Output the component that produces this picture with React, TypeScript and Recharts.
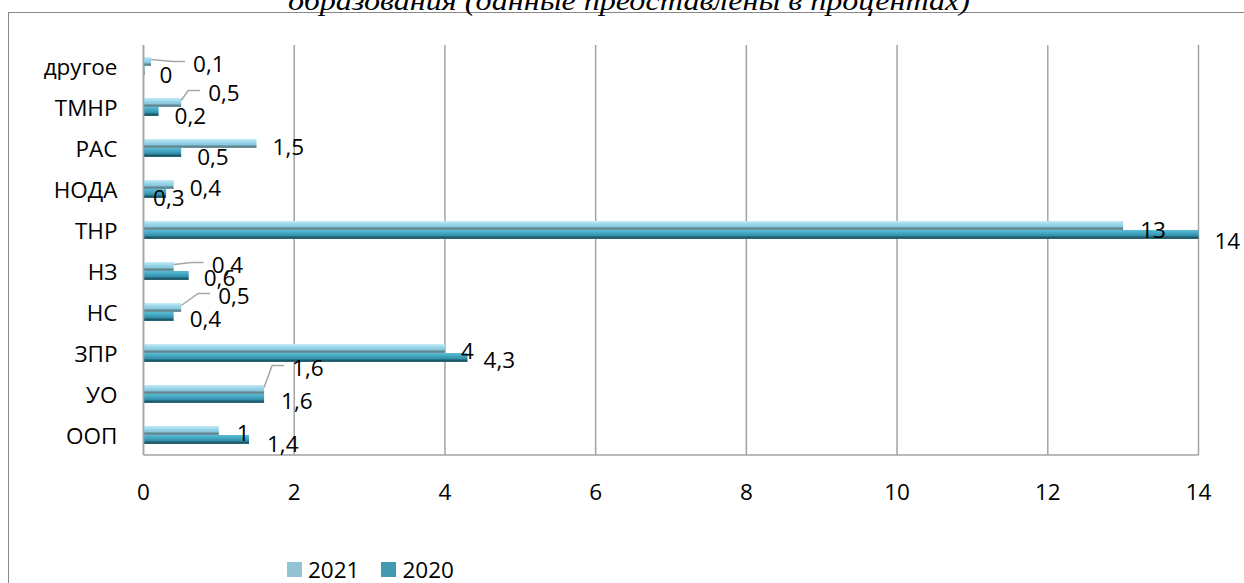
import React from 'react'
import { BarChart, Bar, XAxis, YAxis, CartesianGrid, LabelList } from 'recharts'

const categories = ['другое', 'ТМНР', 'РАС', 'НОДА', 'ТНР', 'НЗ', 'НС', 'ЗПР', 'УО', 'ООП']
const values2021 = [0.1, 0.5, 1.5, 0.4, 13, 0.4, 0.5, 4, 1.6, 1]
const values2020 = [0, 0.2, 0.5, 0.3, 14, 0.6, 0.4, 4.3, 1.6, 1.4]
const xTicks = [0, 2, 4, 6, 8, 10, 12, 14]

// label nudges relative to the end of each bar: [dx, dy, leader line]
const nudge2021: [number, number, boolean][] = [
    [42, 2, true], [27, -10, true], [16, 3, false], [16, 3, false], [17, 4, false],
    [38, -2, true], [37, -12, true], [16, 2, false], [28, -22, true], [18, 2, false],
]
const nudge2020: [number, number, boolean][] = [
    [15, 4, false], [16, 4, false], [16, 4, false], [-13, 4, false], [16, 6, false],
    [15, 2, false], [16, 2, false], [16, 2, false], [17, 2, false], [18, 4, false],
]

const FONT = '"Open Sans", sans-serif'
const FS = 22.5
const GRID = '#a3a3a3'

const chartData = categories.map((name, i) => ({
    name,
    y2021: values2021[i],
    y2020: values2020[i],
}))

const fmt = (v: number) => String(v).replace('.', ',')

function makeLabel(nudges: [number, number, boolean][]) {
    return (props: any) => {
        const { x, y, width, height, value, index } = props
        const [dx, dy, leader] = nudges[index] || [16, 3, false]
        const endX = Number(x) + Number(width)
        const cy = Number(y) + Number(height) / 2
        const lx = endX + dx
        const ly = cy + dy
        return (
            <g>
                {leader && (
                    <polyline
                        points={`${endX},${cy - 2} ${lx - 20},${ly - 2} ${lx - 8},${ly - 2}`}
                        fill="none"
                        stroke="#a6a6a6"
                        strokeWidth={1.5}
                    />
                )}
                <text x={lx} y={ly} dominantBaseline="central" textAnchor="start"
                    fontFamily={FONT} fontSize={FS} fill="#000">
                    {fmt(value)}
                </text>
            </g>
        )
    }
}

const XTick = (props: any) => {
    const { x, y, payload } = props
    return (
        <text x={x} y={Number(y) + 36} textAnchor="middle" dominantBaseline="central"
            fontFamily={FONT} fontSize={FS} fill="#000">
            {payload.value}
        </text>
    )
}

const YTick = (props: any) => {
    const { x, y, payload } = props
    return (
        <text x={Number(x) - 26} y={Number(y) + 1} textAnchor="end" dominantBaseline="central"
            fontFamily={FONT} fontSize={FS} fill="#000">
            {payload.value}
        </text>
    )
}

export default function App() {
    return (
        <div style={{ position: 'relative', width: 1244, height: 583, overflow: 'hidden', background: '#fff' }}>
            <style>{'body{margin:0}'}</style>
            {/* frame of the chart area */}
            <div style={{
                position: 'absolute', left: 8, top: 12, width: 1400, height: 800,
                borderLeft: '1.5px solid #888', borderTop: '1.5px solid #888',
            }} />
            {/* title, cut off at the top */}
            <svg width={1244} height={20} style={{ position: 'absolute', left: 0, top: 0 }}>
                <text x={288} y={10} textLength={682} lengthAdjust="spacingAndGlyphs"
                    fontFamily='"Liberation Serif", serif' fontStyle="italic" fontSize={27} fill="#000">
                    образования  (данные представлены в процентах)
                </text>
            </svg>
            <div style={{ position: 'absolute', left: 0, top: 0 }}>
                <BarChart
                    width={1244}
                    height={583}
                    data={chartData}
                    layout="vertical"
                    margin={{ top: 45, right: 45.5, left: 0, bottom: 88 }}
                    barSize={9}
                    barGap={0}
                >
                    <defs>
                        <linearGradient id="g2021" x1="0" y1="0" x2="0" y2="1">
                            <stop offset="0%" stopColor="#c6ecf8" />
                            <stop offset="35%" stopColor="#9ad6ea" />
                            <stop offset="68%" stopColor="#86c5da" />
                            <stop offset="76%" stopColor="#5d818c" />
                            <stop offset="100%" stopColor="#6f97a4" />
                        </linearGradient>
                        <linearGradient id="g2020" x1="0" y1="0" x2="0" y2="1">
                            <stop offset="0%" stopColor="#5bbcd5" />
                            <stop offset="35%" stopColor="#43a6c1" />
                            <stop offset="68%" stopColor="#2f8ba5" />
                            <stop offset="78%" stopColor="#1d5261" />
                            <stop offset="100%" stopColor="#2a6d80" />
                        </linearGradient>
                    </defs>
                    <CartesianGrid horizontal={false} vertical stroke={GRID} strokeWidth={1.5} />
                    <XAxis
                        type="number"
                        domain={[0, 14]}
                        ticks={xTicks}
                        height={40}
                        axisLine={{ stroke: GRID, strokeWidth: 1.5 }}
                        tickLine={false}
                        tickSize={0}
                        tickMargin={0}
                        tick={<XTick />}
                    />
                    <YAxis
                        type="category"
                        dataKey="name"
                        width={143.5}
                        axisLine={{ stroke: GRID, strokeWidth: 1.5 }}
                        tickLine={false}
                        tickSize={0}
                        tickMargin={0}
                        tick={<YTick />}
                        interval={0}
                    />
                    <Bar dataKey="y2021" fill="url(#g2021)" isAnimationActive={false}>
                        <LabelList dataKey="y2021" content={makeLabel(nudge2021)} />
                    </Bar>
                    <Bar dataKey="y2020" fill="url(#g2020)" minPointSize={1} isAnimationActive={false}>
                        <LabelList dataKey="y2020" content={makeLabel(nudge2020)} />
                    </Bar>
                </BarChart>
            </div>
            {/* legend */}
            <div style={{ position: 'absolute', left: 287, top: 558, display: 'flex', alignItems: 'center', fontFamily: FONT, fontSize: FS, color: '#000', lineHeight: '23px' }}>
                <span style={{ width: 15, height: 15, background: '#93c4d5', display: 'inline-block', marginRight: 6 }} />
                <span style={{ marginRight: 22 }}>2021</span>
                <span style={{ width: 15, height: 15, background: '#4299b0', display: 'inline-block', marginRight: 6 }} />
                <span>2020</span>
            </div>
        </div>
    )
}
